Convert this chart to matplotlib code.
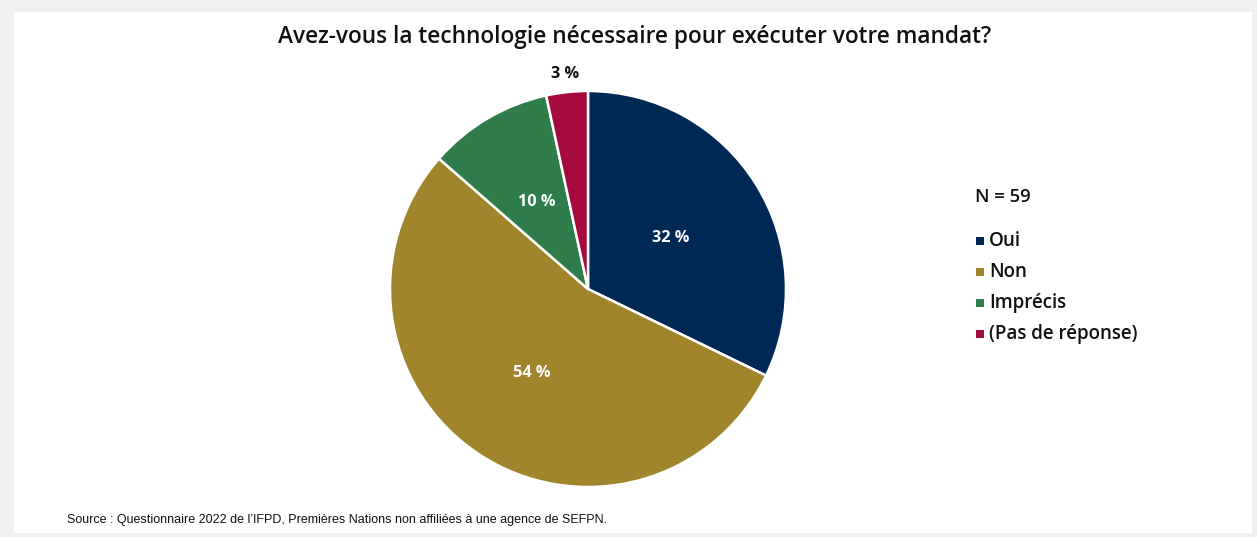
import numpy as np
import matplotlib.pyplot as plt
from matplotlib.patches import Rectangle

# réponses au questionnaire (N = 59)
categories = ["Oui", "Non", "Imprécis", "(Pas de réponse)"]
counts = [19, 32, 6, 2]
colors = ["#002855", "#a0852c", "#2e7d4a", "#a50a3f"]
label_dist = [0.49, 0.51, 0.51, 1.09]
label_color = ["white", "white", "white", "#111111"]

title = "Avez-vous la technologie nécessaire pour exécuter votre mandat?"
source = "Source : Questionnaire 2022 de l’IFPD, Premières Nations non affiliées à une agence de SEFPN."

W, H = 1257, 537
fig = plt.figure(figsize=(W / 100, H / 100), dpi=100, facecolor="#f0f0f0")
fig.patches.append(Rectangle((14 / W, 4 / H), (1252 - 14) / W, (525 - 4) / H,
                             transform=fig.transFigure, facecolor="white",
                             edgecolor="none", zorder=-10))

font = ["Open Sans", "DejaVu Sans"]

cx, cy, r = 588, 289, 198
ax = fig.add_axes([(cx - r) / W, (H - cy - r) / H, 2 * r / W, 2 * r / H])
ax.patch.set_alpha(0)
n = sum(counts)
wedges, _ = ax.pie(counts, colors=colors, startangle=90, counterclock=False,
                   wedgeprops=dict(edgecolor="white", linewidth=1.8))
ax.set_xlim(-1, 1)
ax.set_ylim(-1, 1)
ax.set_aspect("equal")

for w, c, d, tc in zip(wedges, counts, label_dist, label_color):
    mid = np.deg2rad((w.theta1 + w.theta2) / 2)
    ax.text(d * np.cos(mid), d * np.sin(mid), f"{round(100 * c / n)} %",
            ha="center", va="center", color=tc, fontsize=11.7, fontweight="bold",
            family=font, clip_on=False)

fig.text(635 / W, 1 - 37 / H, title, ha="center", va="center", fontsize=16.3,
         fontweight="semibold", family=font, color="#111111")

fig.text(975 / W, 1 - 197 / H, f"N = {n}", ha="left", va="center", fontsize=13.3,
         fontweight="semibold", family=font, color="#111111")
for i, (cat, col) in enumerate(zip(categories, colors)):
    y = 1 - (240 + 31 * i) / H
    fig.patches.append(Rectangle((976 / W, y - 5 / H), 8 / W, 8 / H,
                                 transform=fig.transFigure, facecolor=col,
                                 edgecolor="none"))
    fig.text(989 / W, y - 1 / H, cat, ha="left", va="center", fontsize=13.5,
             fontweight="semibold", family=font, color="#111111")

fig.text(67 / W, 1 - 520 / H, source, ha="left", va="center", fontsize=9,
         family=["Liberation Sans", "DejaVu Sans"], color="#111111")

fig.savefig("out.png", dpi=100, facecolor=fig.get_facecolor())
